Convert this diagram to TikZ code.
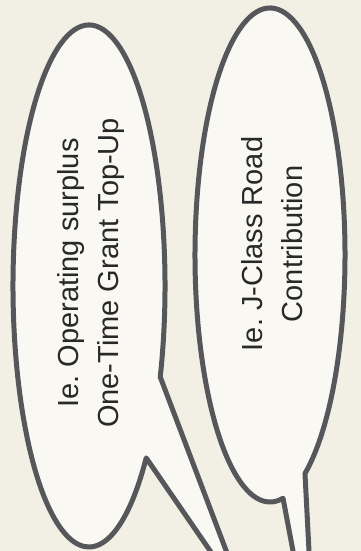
\documentclass[tikz,border=0pt]{standalone}
\usepackage{fontspec}
\setmainfont{Liberation Sans}
\usetikzlibrary{positioning}
\frenchspacing
\definecolor{paper}{RGB}{242,240,229}
\definecolor{bubblefill}{RGB}{249,248,243}
\definecolor{bubbleline}{RGB}{85,87,91}
\definecolor{ink}{RGB}{40,40,40}
\tikzset{bubble/.style={draw=bubbleline,fill=bubblefill,line width=5pt,line join=round},
    bubble text/.style={rotate=90,align=center,text=ink,inner sep=0pt,
        font=\fontsize{29}{40}\selectfont}}

\begin{document}
\begin{tikzpicture}[x=1pt,y=1pt]
    % Page and paper tone
    \useasboundingbox (0,0) rectangle (361,551);
    \fill[paper] (0,0) rectangle (361,551);
    \clip (0,0) rectangle (361,551);

    % Left speech bubble (tail runs off the bottom edge)
    \coordinate (lcentre) at (89,265);
    \coordinate (ltip) at (246,-52);
    \draw[bubble] ([shift={(lcentre)}]-20.4:76 and 261)
        arc[start angle=-20.4, end angle=318.8, x radius=76, y radius=261]
        -- (ltip) -- cycle;

    % Right speech bubble
    \coordinate (rcentre) at (270,296);
    \coordinate (rtip) at (315,-116);
    \draw[bubble] ([shift={(rcentre)}]-62.2:75 and 247)
        arc[start angle=-62.2, end angle=280, x radius=75, y radius=247]
        -- (rtip) -- cycle;

    % Texts, read bottom to top
    \node[bubble text] (ltext) at (91.5,278) {Ie. Operating surplus\\One-Time Grant Top-Up};
    \node[bubble text] (rtext) at (272.5,307) {Ie. J-Class Road\\Contribution};
\end{tikzpicture}
\end{document}
